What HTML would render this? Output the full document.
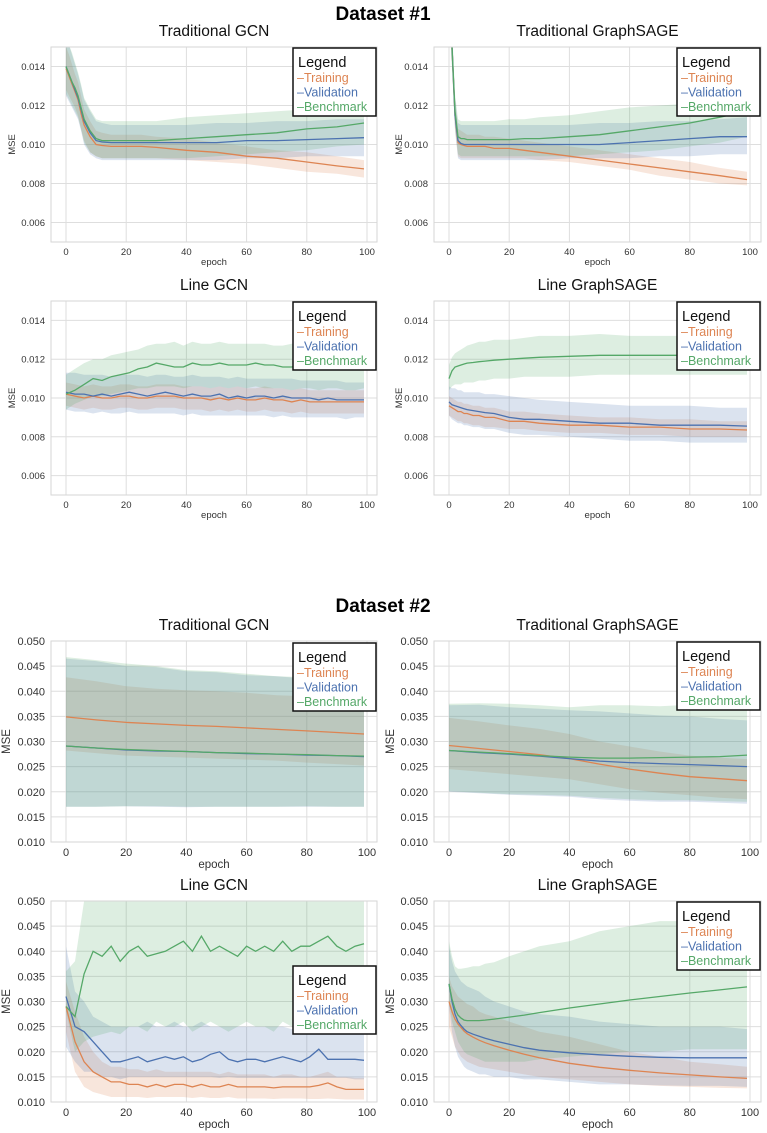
<!DOCTYPE html>
<html><head><meta charset="utf-8">
<style>
html,body{margin:0;padding:0;background:#fff;}
svg{display:block;font-family:"Liberation Sans",Arial,sans-serif;}
</style></head>
<body>
<svg id="fig" width="767" height="1133" viewBox="0 0 767 1133" xmlns="http://www.w3.org/2000/svg">
<text x="383" y="20" text-anchor="middle" font-size="19" font-weight="bold">Dataset #1</text>
<text x="383" y="612" text-anchor="middle" font-size="19" font-weight="bold">Dataset #2</text>
</svg>
<script>
// ---------- data ----------
const E = [0,1,2,3,4,5,6,8,10,12,15,20,25,30,40,50,60,70,80,90,99];
const E3 = [0,3,6,9,12,15,18,21,24,27,30,33,36,39,42,45,48,51,54,57,60,63,66,69,72,75,78,81,84,87,90,93,96,99];
const E5 = [0,10,20,30,40,50,60,70,80,90,99];

const ticksD1 = [0.006,0.008,0.010,0.012,0.014];
const ticksD2 = [0.010,0.015,0.020,0.025,0.030,0.035,0.040,0.045,0.050];
const xTicks = [0,20,40,60,80,100];

// P1 D1 Traditional GCN
const p1tr=[.0139,.0135,.0131,.0127,.0123,.0116,.0110,.0104,.0100,.00995,.0099,.0099,.0099,.00985,.0097,.0096,.0094,.0093,.0091,.0089,.00875];
const p1trLo=[.0128,.0125,.0122,.0119,.0115,.0108,.0102,.0096,.0094,.0093,.0093,.0093,.0093,.0093,.0092,.0091,.0090,.0088,.0086,.0085,.0083];
const p1trHi=[.0150,.0146,.0141,.0136,.0132,.0125,.0118,.0112,.0107,.0106,.0105,.0105,.0105,.0104,.0103,.0101,.0099,.0097,.0096,.0094,.0092];
const p1va=[.0140,.0136,.0132,.0128,.0124,.0118,.0112,.0106,.0102,.01013,.0101,.0101,.0101,.0101,.0101,.0101,.0102,.0102,.01025,.0103,.01035];
const p1vaLo=[.0125,.0122,.0119,.0116,.0113,.0107,.0100,.0095,.0093,.0092,.0092,.0092,.0092,.0092,.0092,.0092,.0093,.0093,.0094,.0094,.0094];
const p1vaHi=[.0155,.0151,.0146,.0141,.0136,.0130,.0123,.0117,.0112,.0111,.0110,.0110,.0110,.0110,.0110,.0111,.0111,.0112,.0112,.0113,.0113];
const p1be=[.0140,.0136,.0132,.0129,.0125,.0119,.0113,.0107,.0103,.0102,.0102,.0102,.0102,.0102,.0103,.0104,.0105,.0106,.0108,.0109,.0111];
const p1beLo=[.0126,.0123,.0120,.0117,.0114,.0108,.0101,.0096,.0094,.0093,.0093,.0093,.0093,.0093,.0093,.0094,.0095,.0096,.0097,.0099,.0100];
const p1beHi=[.0155,.0151,.0147,.0142,.0137,.0131,.0124,.0118,.0113,.0112,.0112,.0112,.0112,.0112,.0114,.0115,.0116,.0117,.0118,.0119,.0120];

// P2 D1 Traditional GraphSAGE
const p2tr=[.018,.015,.0115,.0101,.0100,.00995,.0099,.0099,.0099,.0099,.0098,.0098,.0097,.0096,.0094,.0092,.0090,.0088,.0086,.0084,.0082];
const p2trLo=[.017,.014,.0108,.0094,.0093,.0093,.0093,.0093,.0093,.0093,.0093,.0093,.0093,.0092,.0091,.0089,.0087,.0084,.0082,.0080,.0079];
const p2trHi=[.019,.016,.0122,.0108,.0107,.0106,.0105,.0105,.0105,.0104,.0104,.0103,.0102,.0101,.0099,.0097,.0095,.0093,.0091,.0088,.0086];
const p2va=[.018,.015,.0115,.0102,.01005,.0100,.0100,.0100,.0100,.0100,.0100,.0100,.0100,.0100,.0100,.0100,.0101,.0102,.0103,.0104,.0104];
const p2vaLo=[.017,.014,.0107,.0093,.0092,.0092,.0092,.0092,.0092,.0092,.0092,.0092,.0092,.0092,.0093,.0093,.0093,.0094,.0094,.0095,.0095];
const p2vaHi=[.019,.016,.0124,.0111,.0110,.0110,.0110,.0110,.0110,.0110,.0110,.0110,.0110,.0110,.0110,.0111,.0111,.0112,.0112,.0113,.0114];
const p2be=[.018,.015,.0117,.0104,.0103,.0103,.01025,.01025,.01025,.01025,.01025,.01025,.0103,.0103,.0104,.0105,.0107,.0109,.0111,.0114,.0117];
const p2beLo=[.017,.014,.0109,.0095,.0094,.0094,.0094,.0094,.0094,.0094,.0094,.0094,.0094,.0094,.0094,.0095,.0096,.0097,.0099,.0101,.0104];
const p2beHi=[.019,.016,.0126,.0113,.0112,.0112,.0112,.0112,.0112,.0112,.0112,.0113,.0113,.0114,.0115,.0117,.0119,.0120,.0121,.0123,.0125];

// P3 D1 Line GCN
const p3tr=[.0102,.0101,.0100,.0101,.0100,.0100,.0101,.0101,.0100,.0100,.0101,.0101,.0101,.0100,.0100,.0100,.0099,.0100,.0099,.0100,.0099,.0099,.0100,.0099,.0099,.0098,.0099,.0098,.0098,.0098,.0098,.0098,.0098,.0098];
const p3trLo=[.0096,.0095,.0094,.0095,.0094,.0094,.0095,.0095,.0094,.0094,.0095,.0095,.0095,.0094,.0094,.0094,.0093,.0094,.0093,.0094,.0093,.0093,.0094,.0093,.0093,.0092,.0093,.0092,.0092,.0092,.0092,.0092,.0092,.0092];
const p3trHi=[.0108,.0107,.0106,.0107,.0106,.0106,.0107,.0107,.0106,.0106,.0107,.0107,.0107,.0106,.0106,.0106,.0105,.0106,.0105,.0106,.0105,.0105,.0106,.0105,.0105,.0104,.0105,.0104,.0104,.0104,.0104,.0104,.0104,.0104];
const p3va=[.0103,.0102,.0102,.0101,.0102,.0101,.0102,.0103,.0102,.0101,.0102,.0103,.0102,.0101,.0102,.0101,.0101,.0102,.0100,.0101,.0100,.0101,.0101,.0100,.0101,.0100,.0100,.0100,.0099,.0100,.0099,.0099,.0099,.0099];
const p3vaLo=[.0094,.0093,.0093,.0092,.0093,.0092,.0092,.0093,.0092,.0092,.0092,.0092,.0092,.0091,.0092,.0091,.0091,.0091,.0091,.0091,.0091,.0091,.0091,.0090,.0091,.0090,.0090,.0090,.0090,.0090,.0090,.0089,.0090,.0090];
const p3vaHi=[.0113,.0113,.0112,.0112,.0112,.0111,.0112,.0112,.0112,.0111,.0112,.0112,.0111,.0111,.0112,.0111,.0111,.0111,.0110,.0111,.0110,.0110,.0110,.0110,.0110,.0110,.0109,.0109,.0109,.0109,.0109,.0108,.0108,.0108];
const p3be=[.0102,.0104,.0107,.0110,.0109,.0111,.0112,.0113,.0115,.0116,.0118,.0117,.0116,.0116,.0118,.0117,.0117,.0118,.0117,.0117,.0117,.0118,.0117,.0117,.0116,.0116,.0117,.0117,.0117,.0117,.0118,.0117,.0117,.0117];
const p3beLo=[.0094,.0097,.0099,.0101,.0101,.0102,.0103,.0104,.0105,.0105,.0106,.0106,.0106,.0105,.0106,.0106,.0105,.0106,.0105,.0106,.0105,.0106,.0105,.0105,.0105,.0104,.0105,.0105,.0104,.0105,.0105,.0104,.0104,.0105];
const p3beHi=[.0112,.0115,.0118,.0120,.0120,.0122,.0123,.0124,.0125,.0127,.0128,.0128,.0129,.0127,.0129,.0128,.0128,.0129,.0128,.0128,.0128,.0128,.0128,.0127,.0127,.0128,.0127,.0128,.0127,.0127,.0128,.0127,.0126,.0126];

// P4 D1 Line GraphSAGE
const p4tr=[.0096,.0095,.0094,.0093,.0093,.0092,.0092,.0091,.0091,.0090,.0090,.0088,.0088,.0087,.0086,.0086,.0085,.0085,.0084,.0084,.00835];
const p4trLo=[.0091,.0090,.0089,.0088,.0088,.0087,.0087,.0086,.0086,.0085,.0085,.0084,.0084,.0083,.0082,.0082,.0081,.0081,.0080,.0080,.0080];
const p4trHi=[.0101,.0100,.0099,.0098,.0098,.0097,.0097,.0096,.0096,.0095,.0095,.0093,.0093,.0092,.0091,.0090,.0090,.0089,.0089,.0088,.0088];
const p4va=[.0098,.00965,.0096,.00955,.0095,.00945,.0094,.00935,.0093,.00925,.0092,.0090,.0089,.0089,.0088,.0087,.0087,.0086,.0086,.0086,.00855];
const p4vaLo=[.0091,.0089,.0088,.0087,.0087,.0086,.0086,.0085,.0085,.0084,.0084,.0082,.0081,.0081,.0080,.0079,.0078,.0078,.0077,.0077,.0077];
const p4vaHi=[.0106,.0105,.0105,.0104,.0104,.0103,.0103,.0103,.0103,.0102,.0102,.0101,.0100,.0099,.0098,.0097,.0096,.0096,.0096,.0095,.0095];
const p4be=[.0110,.0114,.0116,.01165,.0117,.01175,.0118,.01183,.01187,.0119,.01195,.0120,.01205,.0121,.01215,.0122,.0122,.0122,.0122,.0122,.0122];
const p4beLo=[.0104,.0106,.0107,.0107,.0107,.0108,.0108,.0108,.0109,.0109,.0110,.0110,.0111,.0111,.0111,.0112,.0112,.0112,.0112,.0112,.0112];
const p4beHi=[.0117,.0121,.0123,.0124,.0125,.0126,.0127,.0128,.0129,.0129,.0130,.0130,.0131,.0132,.0132,.0133,.0132,.0132,.0132,.0132,.0132];

// P5 D2 Traditional GCN
const p5tr=[.0349,.0343,.0338,.0335,.0332,.0330,.0327,.0324,.0321,.0318,.0315];
const p5trLo=[.0282,.0277,.0272,.0270,.0268,.0266,.0264,.0262,.0258,.0255,.0252];
const p5trHi=[.0428,.0420,.0410,.0405,.0402,.0400,.0397,.0392,.0390,.0388,.0387];
const p5va=[.0291,.0287,.0283,.0281,.0280,.0278,.0276,.0275,.0273,.0272,.0270];
const p5vaLo=[.0170,.0170,.0171,.0170,.0169,.0170,.0170,.0170,.0170,.0170,.0170];
const p5vaHi=[.0465,.0460,.0450,.0448,.0440,.0438,.0432,.0430,.0425,.0420,.0420];
const p5be=[.0291,.0287,.0284,.0282,.0280,.0278,.0277,.0275,.0274,.0272,.0271];
const p5beLo=[.0170,.0170,.0171,.0171,.0170,.0170,.0170,.0170,.0171,.0170,.0170];
const p5beHi=[.0468,.0462,.0455,.0450,.0442,.0440,.0435,.0430,.0428,.0425,.0422];

// P6 D2 Traditional GraphSAGE
const p6tr=[.0292,.0286,.0280,.0274,.0266,.0255,.0245,.0237,.0230,.0226,.0222];
const p6trLo=[.0245,.0240,.0235,.0230,.0225,.0215,.0205,.0198,.0193,.0188,.0185];
const p6trHi=[.0347,.0340,.0332,.0325,.0315,.0300,.0290,.0280,.0272,.0268,.0265];
const p6va=[.0282,.0278,.0275,.0271,.0266,.0261,.0258,.0256,.0254,.0252,.0250];
const p6vaLo=[.0200,.0197,.0194,.0192,.0190,.0185,.0182,.0180,.0180,.0178,.0176];
const p6vaHi=[.0372,.0373,.0368,.0365,.0362,.0360,.0356,.0352,.0350,.0345,.0342];
const p6be=[.0282,.0279,.0276,.0272,.0269,.0267,.0267,.0268,.0269,.0270,.0273];
const p6beLo=[.0201,.0198,.0195,.0194,.0192,.0188,.0185,.0183,.0183,.0181,.0180];
const p6beHi=[.0375,.0376,.0375,.0372,.0368,.0372,.0372,.0370,.0373,.0368,.0365];

// P7 D2 Line GCN
const p7tr=[.029,.022,.018,.016,.015,.014,.014,.0135,.0135,.013,.0135,.013,.0135,.0135,.013,.0135,.013,.013,.0135,.013,.013,.013,.013,.0128,.013,.013,.013,.013,.0133,.0138,.013,.0125,.0125,.0125];
const p7trLo=[.024,.016,.013,.012,.0115,.011,.011,.011,.011,.0108,.011,.011,.011,.011,.0108,.011,.0108,.0108,.011,.0107,.0107,.0107,.0107,.0106,.0107,.0107,.0107,.0106,.0106,.0107,.0106,.0105,.0105,.0105];
const p7trHi=[.034,.028,.023,.020,.018,.017,.017,.0165,.0165,.016,.0165,.016,.016,.016,.016,.016,.016,.0155,.016,.0155,.0155,.0155,.0155,.015,.0155,.0155,.015,.015,.0155,.016,.015,.015,.0148,.0148];
const p7va=[.031,.025,.024,.022,.020,.018,.018,.0185,.019,.018,.0185,.019,.0185,.019,.018,.0185,.0195,.020,.0185,.018,.0185,.0185,.018,.0185,.019,.0185,.018,.019,.0205,.0185,.0185,.0185,.0185,.0183];
const p7vaLo=[.021,.018,.016,.016,.015,.015,.0145,.015,.015,.015,.015,.015,.015,.015,.015,.015,.015,.0148,.015,.0148,.0148,.0148,.0148,.0148,.0148,.0148,.0148,.0148,.0148,.0148,.0148,.0148,.0145,.0145];
const p7vaHi=[.041,.032,.030,.027,.026,.025,.025,.025,.025,.026,.025,.025,.026,.025,.025,.026,.025,.025,.025,.025,.025,.025,.025,.025,.025,.0245,.025,.0245,.0245,.024,.024,.024,.024,.024];
const p7be=[.029,.027,.0355,.040,.039,.041,.038,.040,.041,.039,.0395,.040,.041,.042,.040,.043,.040,.041,.040,.039,.041,.040,.041,.040,.042,.040,.041,.041,.042,.043,.041,.040,.041,.0415];
const p7beLo=[.028,.020,.022,.023,.0235,.024,.0235,.025,.025,.024,.026,.025,.025,.026,.024,.025,.026,.025,.024,.025,.026,.025,.025,.024,.026,.025,.025,.024,.025,.025,.024,.025,.024,.024];
const p7beHi=[.036,.038,.050,.055,.055,.055,.055,.055,.055,.055,.055,.055,.055,.055,.055,.055,.055,.055,.055,.055,.055,.055,.055,.055,.055,.055,.055,.055,.055,.055,.055,.055,.055,.055];

// P8 D2 Line GraphSAGE
const p8tr=[.030,.028,.0265,.0255,.0248,.0241,.0236,.0229,.0223,.0218,.0212,.0203,.0195,.0188,.0177,.0169,.0163,.0158,.0154,.0150,.0147];
const p8trLo=[.025,.023,.021,.020,.019,.0185,.018,.0175,.017,.0168,.0165,.016,.0155,.015,.0145,.014,.0135,.0132,.013,.0128,.0127];
const p8trHi=[.035,.033,.032,.031,.0305,.030,.0295,.029,.028,.0275,.027,.026,.025,.024,.023,.0215,.020,.019,.018,.0175,.017];
const p8va=[.0335,.030,.0275,.026,.0252,.0245,.024,.0235,.0231,.0227,.0222,.0215,.0208,.0203,.0198,.0194,.0191,.0189,.0188,.0188,.0188];
const p8vaLo=[.029,.024,.021,.019,.018,.017,.0165,.016,.0155,.0155,.015,.015,.0145,.0145,.014,.0135,.0135,.0133,.0132,.0132,.013];
const p8vaHi=[.041,.038,.036,.035,.034,.0335,.033,.0325,.032,.031,.030,.029,.028,.0275,.027,.026,.0255,.025,.025,.025,.0245];
const p8be=[.0335,.0305,.0285,.0273,.0267,.0263,.0262,.0262,.0262,.0263,.0265,.0269,.0273,.0278,.0287,.0295,.0303,.0310,.0317,.0323,.0329];
const p8beLo=[.030,.026,.024,.022,.021,.020,.0195,.019,.0185,.018,.018,.018,.018,.0185,.019,.0195,.020,.020,.0205,.0205,.0205];
const p8beHi=[.042,.039,.037,.0365,.0365,.0366,.0367,.037,.037,.0375,.0378,.039,.040,.041,.042,.044,.045,.046,.046,.047,.046];

// ---------- drawing ----------
const NS="http://www.w3.org/2000/svg";
const svg=document.getElementById('fig');
const C={tr:'#dd8452',va:'#4c72b0',be:'#55a868'};
function mk(tag,attrs,parent){const e=document.createElementNS(NS,tag);for(const k in attrs)e.setAttribute(k,attrs[k]);(parent||svg).appendChild(e);return e;}

const panels=[
 {id:'d1-traditional-gcn',title:'Traditional GCN',col:0,y0:47,y1:242,d:[0.005,0.015],ticks:ticksD1,big:false,ep:E,s:[[p1tr,p1trLo,p1trHi],[p1va,p1vaLo,p1vaHi],[p1be,p1beLo,p1beHi]],leg:48},
 {id:'d1-traditional-graphsage',title:'Traditional GraphSAGE',col:1,y0:47,y1:242,d:[0.005,0.015],ticks:ticksD1,big:false,ep:E,s:[[p2tr,p2trLo,p2trHi],[p2va,p2vaLo,p2vaHi],[p2be,p2beLo,p2beHi]],leg:48},
 {id:'d1-line-gcn',title:'Line GCN',col:0,y0:301,y1:495,d:[0.005,0.015],ticks:ticksD1,big:false,ep:E3,s:[[p3tr,p3trLo,p3trHi],[p3va,p3vaLo,p3vaHi],[p3be,p3beLo,p3beHi]],leg:302},
 {id:'d1-line-graphsage',title:'Line GraphSAGE',col:1,y0:301,y1:495,d:[0.005,0.015],ticks:ticksD1,big:false,ep:E,s:[[p4tr,p4trLo,p4trHi],[p4va,p4vaLo,p4vaHi],[p4be,p4beLo,p4beHi]],leg:302},
 {id:'d2-traditional-gcn',title:'Traditional GCN',col:0,y0:641,y1:842,d:[0.010,0.050],ticks:ticksD2,big:true,ep:E5,s:[[p5tr,p5trLo,p5trHi],[p5va,p5vaLo,p5vaHi],[p5be,p5beLo,p5beHi]],leg:643},
 {id:'d2-traditional-graphsage',title:'Traditional GraphSAGE',col:1,y0:641,y1:842,d:[0.010,0.050],ticks:ticksD2,big:true,ep:E5,s:[[p6tr,p6trLo,p6trHi],[p6va,p6vaLo,p6vaHi],[p6be,p6beLo,p6beHi]],leg:642},
 {id:'d2-line-gcn',title:'Line GCN',col:0,y0:901,y1:1102,d:[0.010,0.050],ticks:ticksD2,big:true,ep:E3,s:[[p7tr,p7trLo,p7trHi],[p7va,p7vaLo,p7vaHi],[p7be,p7beLo,p7beHi]],leg:966},
 {id:'d2-line-graphsage',title:'Line GraphSAGE',col:1,y0:901,y1:1102,d:[0.010,0.050],ticks:ticksD2,big:true,ep:E,s:[[p8tr,p8trLo,p8trHi],[p8va,p8vaLo,p8vaHi],[p8be,p8beLo,p8beHi]],leg:902}
];
const names=['training','validation','benchmark'];
const cols=[C.tr,C.va,C.be];

panels.forEach((p,pi)=>{
 const x0=p.col===0?51:434, x1=p.col===0?377:761;
 const xs=e=>x0+15+e*3.01;
 const ys=v=>p.y1-(v-p.d[0])/(p.d[1]-p.d[0])*(p.y1-p.y0);
 const g=mk('g',{});
 
 
 const cp=mk('clipPath',{id:'cp'+pi},g);
 mk('rect',{x:x0,y:p.y0,width:x1-x0,height:p.y1-p.y0},cp);
 // grid
 p.ticks.forEach(t=>{
  const gl=mk('line',{x1:x0,x2:x1,y1:ys(t),y2:ys(t),stroke:'#dedede','stroke-width':1},g);
  
  
  const tl=mk('text',{x:x0-6,y:ys(t)+(p.big?4:3.5),'text-anchor':'end','font-size':p.big?11:9.5,fill:'#333'},g);
  tl.textContent=t.toFixed(3);
  
  
 });
 xTicks.forEach(t=>{
  const gl=mk('line',{x1:xs(t),x2:xs(t),y1:p.y0,y2:p.y1,stroke:'#dedede','stroke-width':1},g);
  
  
  const tl=mk('text',{x:xs(t),y:p.y1+(p.big?14:13),'text-anchor':'middle','font-size':p.big?11:9.5,fill:'#333'},g);
  tl.textContent=t;
  
  
 });
 // series
 const sg=mk('g',{'clip-path':'url(#cp'+pi+')'},g);
 p.s.forEach((s,si)=>{
  const [m,lo,hi]=s;
  let d='M'+p.ep.map((e,i)=>xs(e).toFixed(1)+','+ys(hi[i]).toFixed(1)).join('L');
  for(let i=p.ep.length-1;i>=0;i--) d+='L'+xs(p.ep[i]).toFixed(1)+','+ys(lo[i]).toFixed(1);
  const band=mk('path',{d:d+'Z',fill:cols[si],'fill-opacity':0.2,stroke:'none'},sg);
  
  
 });
 p.s.forEach((s,si)=>{
  const m=s[0];
  const ln=mk('polyline',{points:p.ep.map((e,i)=>xs(e).toFixed(1)+','+ys(m[i]).toFixed(1)).join(' '),fill:'none',stroke:cols[si],'stroke-width':1.3},sg);
  
  
 });
 // frame
 const fr=mk('rect',{x:x0,y:p.y0,width:x1-x0,height:p.y1-p.y0,fill:'none',stroke:'#d6d6d6','stroke-width':1},g);
 
 
 // titles
 const tt=mk('text',{x:(x0+x1)/2,y:p.y0-11,'text-anchor':'middle','font-size':15.5,fill:'#111'},g);
 tt.textContent=p.title;
 
 
 const xl=mk('text',{x:(x0+x1)/2,y:p.y1+(p.big?26:23),'text-anchor':'middle','font-size':p.big?11.5:9.5,fill:'#333'},g);
 xl.textContent='epoch';
 
 
 const yx=p.col===0?(p.big?10:15):(p.big?394:402), yy=(p.y0+p.y1)/2;
 const yl=mk('text',{x:yx,y:yy,'text-anchor':'middle','font-size':p.big?11.5:9.5,fill:'#333',transform:'rotate(-90 '+yx+' '+yy+')'},g);
 yl.textContent='MSE';
 
 
 // legend
 const lx=x1-84, ly=p.leg;
 const lg=mk('g',{},g);
 
 
 mk('rect',{x:lx,y:ly,width:83,height:68,fill:'#fff',stroke:'#111','stroke-width':1.5},lg);
 const lt=mk('text',{x:lx+5,y:ly+19,'font-size':14.5,fill:'#111'},lg);
 lt.textContent='Legend';
 
 
 ['Training','Validation','Benchmark'].forEach((n,i)=>{
  const le=mk('text',{x:lx+4,y:ly+34+i*14.5,'font-size':12.5,fill:cols[i]},lg);
  le.textContent='\u2013'+n;
  
  
 });
});
</script>
</body></html>
